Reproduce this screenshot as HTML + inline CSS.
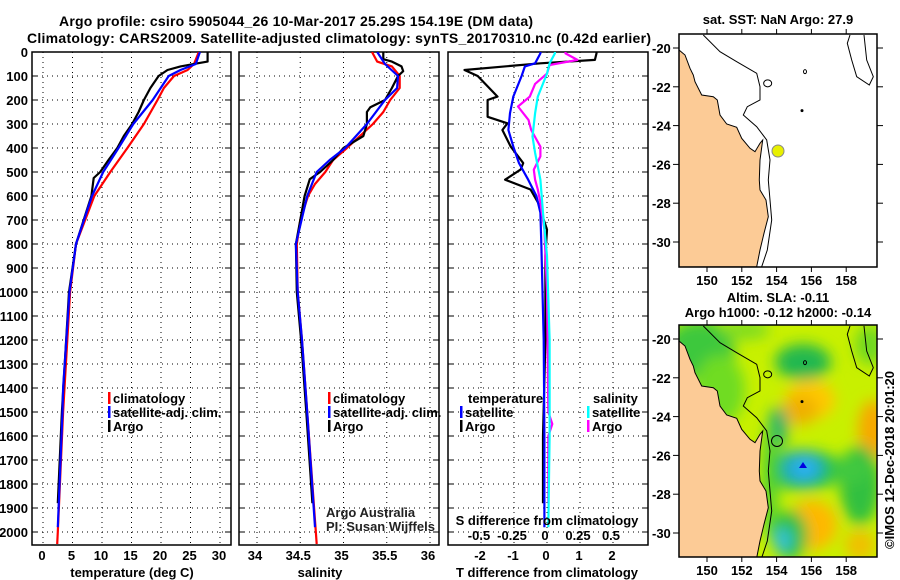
<!DOCTYPE html>
<html><head><meta charset="utf-8"><style>
html,body{margin:0;padding:0;background:#fff;}
svg{display:block;font-family:"Liberation Sans",sans-serif;}
.b{font-weight:bold;font-size:13px;}
.t{font-weight:bold;font-size:14px;}
</style></head><body>
<svg id="c" width="900" height="580" viewBox="0 0 900 580">
<defs>
<filter id="blur" x="-50%" y="-50%" width="200%" height="200%"><feGaussianBlur stdDeviation="7"/></filter>
<clipPath id="clipTop"><rect x="679" y="34" width="198" height="233"/></clipPath>
<clipPath id="clipBot"><rect x="679" y="325" width="198" height="232"/></clipPath>
<clipPath id="clipP1"><rect x="32" y="52" width="199" height="493"/></clipPath>
<clipPath id="clipP2"><rect x="239" y="52" width="200" height="493"/></clipPath>
<clipPath id="clipP3"><rect x="448" y="52" width="200" height="493"/></clipPath>
</defs>
<text class="t" x="296" y="26" text-anchor="middle" textLength="474">Argo profile: csiro 5905044_26 10-Mar-2017 25.29S 154.19E (DM data)</text>
<text class="t" x="339" y="43" text-anchor="middle" textLength="624">Climatology: CARS2009. Satellite-adjusted climatology: synTS_20170310.nc (0.42d earlier)</text>
<g id="g"></g>
</svg>
<script>
// ---------- data ----------
const depthTicks = [0,100,200,300,400,500,600,700,800,900,1000,1100,1200,1300,1400,1500,1600,1700,1800,1900,2000];
const tempTicks = [0,5,10,15,20,25,30];
const salTicks = [34,34.5,35,35.5,36];
const salTickLabels = ["34","34.5","35","35.5","36"];
const dTTicks = [-2,-1,0,1,2];
const dSTicks = [-0.5,-0.25,0,0.25,0.5];
const dSTickLabels = ["-0.5","-0.25","0","0.25","0.5"];

const argoTDepth = [0,40,47,60,75,100,150,200,250,300,350,400,450,500,525,600,800,1000,1500,1880];
const argoTemp   = [27.9,27.9,26.2,23.3,21.1,19.6,18.2,17.1,16.2,15.1,13.7,12.6,11.1,9.7,8.6,8.2,5.6,4.4,3.2,2.5];
const climTDepth = [0,50,75,100,150,200,300,400,500,600,800,1000,1500,2000,2050];
const climTemp   = [26.4,25.6,24.5,22.2,20.5,19.4,17.1,14.3,11.4,8.7,5.6,4.6,3.4,2.5,2.4];
const satTDepth  = [0,50,75,100,200,300,400,500,600,800,1000,1400,1500,1980];
const satTemp    = [26.6,25.9,23.3,21.3,18.6,15.3,12.8,10.2,8.3,5.6,4.5,3.4,3.3,2.5];

const argoSDepth = [0,30,40,60,80,100,150,200,230,250,300,350,400,450,500,530,600,700,800,1000,1200,1500,1880];
const argoSal    = [35.46,35.46,35.56,35.67,35.69,35.63,35.56,35.48,35.31,35.27,35.27,35.23,35.0,34.88,34.73,34.61,34.55,34.5,34.45,34.46,34.51,34.57,34.64];
const climSDepth = [0,40,60,100,150,200,250,300,350,400,450,500,550,600,700,800,1000,1200,1500,2050];
const climSal    = [35.33,35.39,35.56,35.65,35.65,35.54,35.46,35.34,35.19,35.04,34.88,34.79,34.67,34.59,34.5,34.46,34.47,34.52,34.58,34.69];
const satSDepth  = [0,50,100,150,200,300,400,450,500,600,800,1000,1200,1500,1980];
const satSal     = [35.39,35.48,35.63,35.62,35.48,35.27,35.02,34.84,34.69,34.58,34.45,34.47,34.52,34.58,34.67];

const argoDTDepth = [0,6,33,47,75,100,186,200,270,297,325,394,463,490,532,573,628,740,850,1200,1600,1880];
const argoDT      = [1.5,1.5,1.45,-0.2,-2.5,-2.1,-1.5,-1.8,-1.8,-1.2,-1.35,-1.1,-0.72,-0.8,-1.27,-0.5,-0.27,0,-0.05,-0.05,-0.12,-0.12];
const satDTDepth  = [0,6,47,60,100,186,255,325,394,463,532,600,670,810,1200,1600,1980];
const satDT       = [-0.2,-0.2,-0.36,-0.67,-0.77,-1.02,-1.12,-1.17,-1.02,-0.85,-0.57,-0.32,-0.2,-0.17,-0.1,-0.08,-0.08];
const argoDSDepth = [0,6,33,54,90,133,186,227,283,325,394,435,490,532,573,628,740,1000,1500,1550,1600,1880];
const argoDS      = [0.14,0.14,0.23,0.02,0,-0.09,-0.13,-0.22,-0.14,-0.12,-0.05,-0.05,-0.1,-0.09,-0.07,-0.05,-0.02,0,0.01,0.04,0.01,0.01];
const satDSDepth  = [0,6,47,90,186,255,352,420,532,670,850,1200,1600,1980];
const satDS       = [0.06,0.06,0.02,0,-0.07,-0.09,-0.11,-0.09,-0.05,-0.03,0.0,0.02,0.02,0.01];

// ---------- axes ----------
const yD = d => 52 + d*0.24;
const xT = t => 43 + t*5.9;
const xS = s => 257 + (s-34)*86.5;
const xDT = v => 547 + v*33;
const xDS = v => 547 + v*132;

const NS = "http://www.w3.org/2000/svg";
const G = document.getElementById('g');
function mk(tag, attrs, parent){
  const e = document.createElementNS(NS, tag);
  for (const k in attrs) e.setAttribute(k, attrs[k]);
  (parent||G).appendChild(e);
  return e;
}
function txt(x,y,s,cls,anchor,parent){
  const e = mk('text',{x:x,y:y,'class':cls||'b','text-anchor':anchor||'middle'},parent);
  e.textContent = s;
  return e;
}

function panel(x0,x1,xticks,xf,name){
  const grp = mk('g',{});
  
  
  xticks.forEach(v=>{
    const l = mk('line',{x1:xf(v),x2:xf(v),y1:52,y2:545,stroke:'#000','stroke-width':1,'stroke-dasharray':'1,4'},grp);
    
    
  });
  depthTicks.forEach(d=>{
    const l = mk('line',{x1:x0,x2:x1,y1:yD(d),y2:yD(d),stroke:'#000','stroke-width':1,'stroke-dasharray':'1,4'},grp);
    
    
    mk('line',{x1:x0,x2:x0+6,y1:yD(d),y2:yD(d),stroke:'#000','stroke-width':1},grp);
    mk('line',{x1:x1-6,x2:x1,y1:yD(d),y2:yD(d),stroke:'#000','stroke-width':1},grp);
  });
  const r = mk('rect',{x:x0,y:52,width:x1-x0,height:493,fill:'none',stroke:'#000','stroke-width':1.5},grp);
  
  
  return grp;
}
function line(depths, vals, xf, color, clip, name){
  const pts = depths.map((d,i)=>xf(vals[i]).toFixed(1)+','+yD(d).toFixed(1)).join(' ');
  const p = mk('polyline',{points:pts,fill:'none',stroke:color,'stroke-width':2.2,'stroke-linejoin':'round','clip-path':'url(#'+clip+')'});
  
  
}

// panel 1
panel(32,231,tempTicks,xT,'temperature-panel');
depthTicks.forEach(d=>{
  const t = txt(28,yD(d)+5,String(d),'b','end');
  
  
});
tempTicks.forEach(v=>{
  const t = txt(xT(v)-1,560,String(v));
  
  
});
line(climTDepth,climTemp,xT,'#ff0000','clipP1','climatology-temperature-line');
line(argoTDepth,argoTemp,xT,'#000000','clipP1','argo-temperature-line');
line(satTDepth,satTemp,xT,'#0000ff','clipP1','satellite-temperature-line');
{const t=txt(132,577,'temperature (deg C)');}

// panel 2
panel(239,439,salTicks,xS,'salinity-panel');
salTicks.forEach((v,i)=>{
  const t = txt(xS(v)-2,560,salTickLabels[i]);
  
  
});
line(climSDepth,climSal,xS,'#ff0000','clipP2','climatology-salinity-line');
line(argoSDepth,argoSal,xS,'#000000','clipP2','argo-salinity-line');
line(satSDepth,satSal,xS,'#0000ff','clipP2','satellite-salinity-line');
{const t=txt(320,577,'salinity');}
{const t=txt(326,517,'Argo Australia','','start');t.setAttribute('font-size','13');t.setAttribute('fill','#222');}
{const t=txt(326,531,'PI: Susan Wijffels','','start');t.setAttribute('font-size','13');t.setAttribute('fill','#222');}

// panel 3
panel(448,648,dTTicks,xDT,'difference-panel');
dTTicks.forEach(v=>{
  const t = txt(xDT(v)-1,560,String(v));
  
  
});
line(argoDTDepth,argoDT,xDT,'#000000','clipP3','argo-temperature-difference-line');
line(satDTDepth,satDT,xDT,'#0000ff','clipP3','satellite-temperature-difference-line');
line(argoDSDepth,argoDS,xDS,'#ff00ff','clipP3','argo-salinity-difference-line');
line(satDSDepth,satDS,xDS,'#00ffff','clipP3','satellite-salinity-difference-line');
{const t=txt(547,525,'S difference from climatology');}
dSTicks.forEach((v,i)=>{
  const t = txt(xDS(v)-2,540,dSTickLabels[i]);
  
  
});
{const t=txt(547,577,'T difference from climatology');}

// legends
function legEntry(x,y,color,label,name){
  const g = mk('g',{});
  
  
  mk('rect',{x:x,y:y-11,width:2.5,height:12,fill:color},g);
  txt(x+5,y,label,'b','start',g);
}
legEntry(108,403,'#ff0000','climatology','legend-climatology');
legEntry(108,417,'#0000ff','satellite-adj. clim.','legend-satellite-adj');
legEntry(108,431,'#000000','Argo','legend-argo');
legEntry(328,403,'#ff0000','climatology','legend-climatology-salinity');
legEntry(328,417,'#0000ff','satellite-adj. clim.','legend-satellite-adj-salinity');
legEntry(328,431,'#000000','Argo','legend-argo-salinity');
{const t=txt(468,403,'temperature','b','start');}
{const t=txt(593,403,'salinity','b','start');}
legEntry(460,417,'#0000ff','satellite','legend-temperature-satellite');
legEntry(460,431,'#000000','Argo','legend-temperature-argo');
legEntry(587,417,'#00ffff','satellite','legend-salinity-satellite');
legEntry(587,431,'#ff00ff','Argo','legend-salinity-argo');

// ---------- maps ----------
const latTicks = [-20,-22,-24,-26,-28,-30];
const lonTicks = [150,152,154,156,158];
const mxL = lon => 707 + (lon-150)*17.4;
function myL(top){ return lat => top + 14 + (-20-lat)*19.4; }

const coastS = [[57,150],[75,165],[90,205],[100,225],[105,245],[125,285],[160,290],[172,300],[180,345],[200,372],[230,382],[245,415],[270,445],[285,455],[300,430],[308,420],[300,480],[298,540],[300,570],[318,600],[325,650],[312,700],[300,750],[290,800]];
const isoS = [[130,105],[180,155],[230,185],[290,220],[300,260],[300,300],[262,320],[250,345],[290,380],[320,420],[330,480],[325,540],[330,600],[335,660],[322,750],[305,800]];
const isoR = [[570,105],[562,130],[575,180],[590,230],[628,255],[640,230],[620,180],[612,105]];
function pts(arr,dy){ return arr.map(p=>(660+p[0]/3).toFixed(1)+','+(p[1]/3+dy).toFixed(1)).join(' '); }

function mapFrame(top, h, name, title1, title2){
  const g = mk('g',{});
  
  
  if (title2){ txt(778,top-23,title1,'b','middle',g); txt(778,top-8,title2,'b','middle',g); }
  else txt(778,top-10,title1,'b','middle',g);
  return g;
}
function mapAxes(top,h,g){
  const y = myL(top);
  mk('rect',{x:679,y:top,width:198,height:h,fill:'none',stroke:'#000','stroke-width':1.5},g);
  latTicks.forEach(l=>{
    mk('line',{x1:877,x2:883,y1:y(l),y2:y(l),stroke:'#000'},g);
    mk('line',{x1:673,x2:679,y1:y(l),y2:y(l),stroke:'#000'},g);
    const t = txt(652,y(l)+5,String(l),'b','start',g);
    
    
  });
  lonTicks.forEach(l=>{
    mk('line',{x1:mxL(l),x2:mxL(l),y1:top+h,y2:top+h+5,stroke:'#000'},g);
    mk('line',{x1:mxL(l),x2:mxL(l),y1:top-5,y2:top,stroke:'#000'},g);
    const t = txt(mxL(l),top+h+18,String(l),'b','middle',g);
    
    
  });
}
function land(dy,g,clip){
  const cp = pts(coastS,dy);
  mk('polygon',{points:'679,'+(dy+40)+' '+cp+' 679,'+(dy+267),fill:'#fccb96',stroke:'#000','stroke-width':1,'clip-path':'url(#'+clip+')'},g);
  mk('polyline',{points:pts(isoS,dy),fill:'none',stroke:'#000','stroke-width':1,'clip-path':'url(#'+clip+')'},g);
  mk('polyline',{points:pts(isoR,dy),fill:'none',stroke:'#000','stroke-width':1,'clip-path':'url(#'+clip+')'},g);
  mk('ellipse',{cx:660+323/3,cy:dy+250/3,rx:4,ry:3.5,fill:'none',stroke:'#000'},g);
  mk('ellipse',{cx:660+435/3,cy:dy+215/3,rx:1.5,ry:2,fill:'none',stroke:'#000'},g);
  mk('ellipse',{cx:660+426/3,cy:dy+332/3,rx:1.5,ry:1.5,fill:'#000'},g);
}

// top map
const tm = mapFrame(34,233,'sst-map','sat. SST: NaN Argo: 27.9');
mk('rect',{x:679,y:34,width:198,height:233,fill:'#fff'},tm);
land(0,tm,'clipTop');
{const c=mk('circle',{cx:778,cy:151,r:6,fill:'#e8f000',stroke:'#888','stroke-width':1},tm);}
mapAxes(34,233,tm);

// bottom map (SLA)
const bm = mapFrame(325,232,'sla-map','Altim. SLA: -0.11','Argo h1000: -0.12 h2000: -0.14');
const bg = mk('g',{'clip-path':'url(#clipBot)'},bm);
mk('rect',{x:679,y:325,width:198,height:232,fill:'#c8f000'},bg);
const blobs = mk('g',{filter:'url(#blur)'},bg);
[[700,350,35,30,'#3cc83c'],[720,390,25,35,'#70dc20'],[803,362,28,18,'#20b850'],[810,400,25,20,'#ffc800'],[800,410,18,15,'#f0b000'],[873,430,15,30,'#f8a800'],
 [778,427,10,20,'#20b070'],[803,470,40,20,'#20c050'],[803,468,20,16,'#20a8d0'],[805,468,9,7,'#30b8ff'],[860,485,20,40,'#30c040'],[850,470,20,15,'#40c840'],
 [812,525,25,25,'#ffb800'],[790,535,18,25,'#30c040'],[783,540,8,12,'#30c0e0'],[860,545,15,15,'#f0c000'],[870,345,15,20,'#70d820'],[745,330,25,10,'#80dc20'],
 [770,480,8,60,'#50d030']].forEach(b=>{
  mk('ellipse',{cx:b[0],cy:b[1],rx:b[2],ry:b[3],fill:b[4]},blobs);
});
mk('path',{d:'M799,468 l4,-6 l4,6 z',fill:'#0000e0'},bg);
land(291,bg,'clipBot');
{const c=mk('circle',{cx:777,cy:441,r:5.5,fill:'none',stroke:'#000','stroke-width':1},bm);}
mapAxes(325,232,bm);
{const t=txt(0,0,'©IMOS 12-Dec-2018 20:01:20','','middle');t.setAttribute('font-size','13');t.setAttribute('transform','translate(894,460) rotate(-90)');}
</script>
</body></html>
